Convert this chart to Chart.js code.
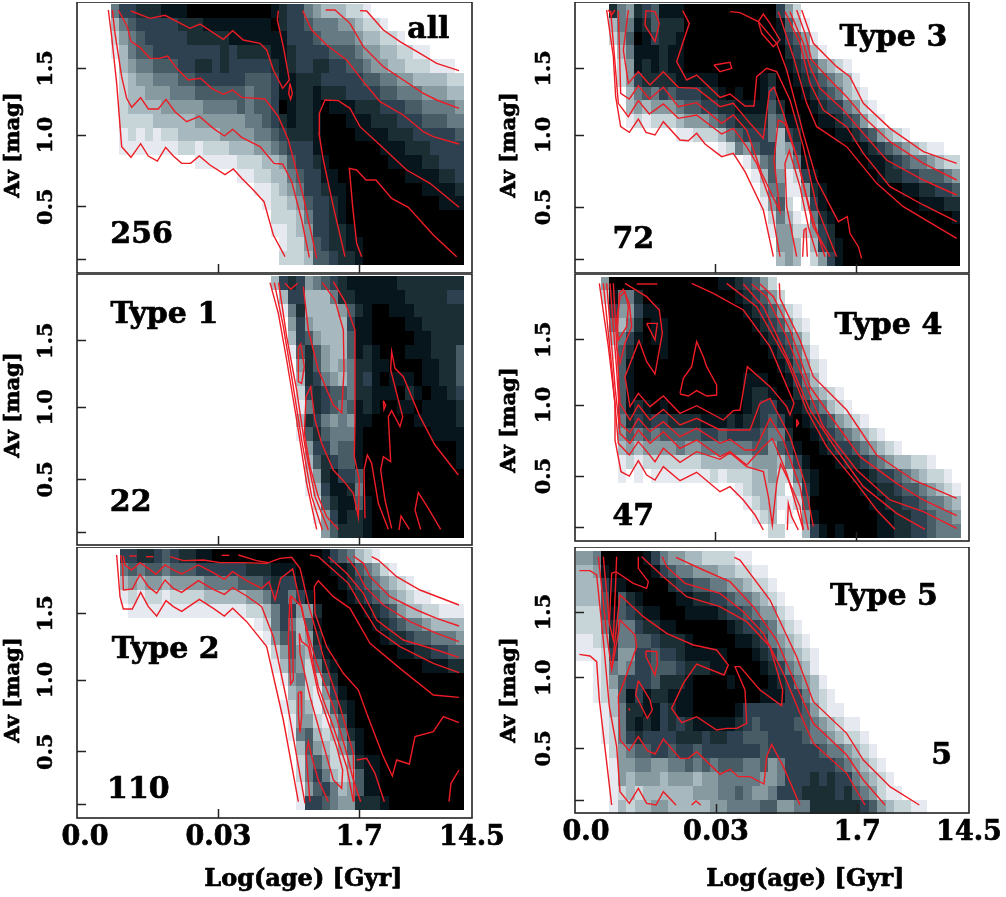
<!DOCTYPE html>
<html><head><meta charset="utf-8">
<style>html,body{margin:0;padding:0;background:#fff}canvas{position:absolute}</style>
<script src="https://cdn.jsdelivr.net/npm/chart.js@4"></script></head><body>
<script>
// Density rows, top to bottom: 0 = black ... 9 = palest, . = empty (spaces only group the columns)
const heatAll=[
"5332221110 0000000001 2335677788 9","7543333322 2111111110 2334555667 889","8654333332 2222111111 1333455556 77889",
"9754433333 3332322221 1233334445 66778899",".765544433 2232333332 1233223344 5667788899 9.",".876655544 3333334443 1122233333 4455667777 88",
".877666555 4444445443 1122122233 3344555666 77",".877776666 6555545443 0122101112 2233344555 56",".888877777 6666665543 2122100011 1222333444 55",
".989898877 7776666554 3222100001 1112223333 34",".999999988 9888777665 4333100000 0011122233 33",".......... 9999988877 6433210000 0001111223 33",
".......... .....99887 7543311000 0000011112 23",".......... .......998 7653321100 0000000111 12",".......... ........98 8764332100 0000000001 11",
".......... .........8 8875332100 0000000000 00",".......... .........9 9876332210 0000000000 00",".......... .......... 9886432211 0000000000 00",
".......... .......... 8887443221 0000000000 00"];
const heatType1=[
"7323654321 1111122222 222",".733777522 1111112222 233",".952777764 2100111222 222","..63677773 1100001122 222","..73467774 1100000112 222",
"..94246774 1210001112 224","...6246765 2211000011 224","...7235675 2310111011 224","...8323445 2211102101 123","...9523454 1210011011 112",
"...7235656 1100000111 112","...9424555 1000000001 111","....633544 1000000000 001","....742344 1000000000 001","....862133 4000000000 000",
"....973112 5000000000 000",".....84211 4100000000 000",".....96312 2100000000 000","......6422 2100000000 000"];
const heatType2=[
"3322343221 1000000000 0000134578 9","5454454443 3333322211 1000011245 689","7676676666 5555444323 3100001234 56789","9898898888 7777766533 5310000123 4567899",
".999999999 9999988753 3662000001 2346778899 9",".......... ......9853 5741000000 1234556777 7",".......... .......964 4762000000 0122344555 6",".......... ........86 4673100000 0001122334 4",
".......... ........97 5685210000 0000001112 2",".......... .........9 6588420000 0000000000 0",".......... .......... 7689631000 0000000000 0",".......... .........9 8679742100 0000000000 0",
".......... .......... 9668964100 0000000000 0",".......... .......... 9547875210 0000000000 0",".......... .......... .746786410 0000000000 0",".......... .......... .854688621 1000000000 0",
".......... .......... .853578741 1000000000 0",".......... .......... .964357641 1000000000 0",".......... .......... .933456622 2100000000 0"];
const heatType3=[
"2562341110 0000000000 368","7551242220 0000000000 1479","8640132210 0000000000 13469",".751112110 0000000000 023579",".861212110 0000000000 012346789",
".863222211 1110000012 0012345679","..75453433 3221010013 0001234578 9","..76766654 4332211114 2000123356 89","..98988876 6654322225 4110011234 689",
"........99 8887543335 7320000112 346789",".......... ...9856433 7630000000 1234567899",".......... ......9754 7751000000 0112345567 88",".......... .......974 6983100000 0012233444 56",
".......... ........85 5996210000 0000011223 34",".......... ........96 48.8310000 0000000111 22",".......... .........8 579.521000 0000000000 01",".......... .........9 6688632000 0000000000 00",
".......... .......... 667.732100 0000000000 00",".......... .......... 767.863100 0000000000 00"];
const heatType4=[
"6000000000 0000112346 8","8155200000 0000001234 68",".366311000 0000000123 4689",".575201100 0000000012 34689",".753101100 0000000001 23468",".942000100 0000000000 123579",
"..41000000 0000000000 0124689","..41000000 0000000111 0013579","..41000000 0000000122 100246789.","..41210100 0000000123 3111245789","..52323322 2211121223 4310123467 89",
"..64545444 4433433334 5520012345 6789","..76766665 6655555544 6431001233 456789","..98988888 8877777766 6753100012 2345677889","..9.9.9999 9998988877 6885210000 1123345678 89",
".......... ......9877 78.7310000 0112234456 789",".......... .......987 7998400000 0011223345 567",".......... ........98 7.9.610000 0001122334 556",".......... .......... 88..731010 0001122334 555"];
const heatType5=[
"6650000013 5667788889 9","7761000001 3455666778 899","7773110000 0233445566 7889","7774042100 0011223345 56789","8884143211 0001111233 456689",
"8885255322 1100000012 3345789","9987255443 2221000001 12356789","9998366334 3321111100 012356789","..98565334 4432221100 001235679","..98643334 2221000010 0001235679",
"..98741312 2111000000 0011133578 9","...9752211 3211000001 3333333468 99","...9852121 3232111112 3433334456 7899","...9853233 3322232233 4443333455 67889","....865443 3433433333 3343333334 556789",
"....966556 6554545444 5546533333 3456789","....967666 7666766555 5566533323 23356789","....987877 7777666554 5665333222 232456899","....978776 6777776655 5544665522 2222346788 99"];

// Contour lines, as x,y pairs in axis units
const contoursAll=[
[115,30,125,110,140,250,155,440,183,472,212,431,235,468,262,483,287,442,310,468,335,490,362,490,388,468,420,495,465,524,490,507,515,535,550,570,582,605,610,705,645,770],
[127,30,135,100,155,230,170,295,185,322,212,293,235,327,265,327,288,298,315,335,350,365,388,349,430,385,463,408,488,388,515,412,570,440,612,490,638,492,665,545,695,660,718,772],
[145,30,172,80,183,125,210,142,240,175,268,175,293,168,320,205,355,240,392,235,425,265,460,283,488,270,515,292,585,297,625,350,655,420,700,590,740,775],
[183,33,240,55,285,46,360,85,390,72,460,118,488,92,520,120,570,130,590,150,610,210,638,265,658,240,640,140,622,60,625,32],
[660,250,667,280,662,298,656,280,660,250],
[698,32,725,90,770,135,830,180,880,245,930,305,1000,345,1060,395,1090,410,1167,432],
[767,30,795,30,840,70,880,140,940,200,1000,240,1060,280,1100,300,1167,325],
[870,32,890,33,940,90,990,125,1050,160,1100,190,1167,212],
[825,770,790,620,760,480,747,400,748,340,765,300,805,302,840,325,870,380,930,435,1010,510,1080,550,1167,622],
[875,770,860,730,848,620,838,505,860,510,888,540,918,540,965,595,1015,622,1090,705,1160,770]];
const contoursType1=[
[600,38,625,130,650,270,680,450,710,640,740,778],
[613,38,640,170,665,320,695,510,725,680,757,780],
[626,38,650,200,680,360,705,530,735,680,775,780],
[645,40,662,58,683,40],
[685,235,692,222,703,290,695,340,685,335,685,235],
[700,50,715,180,745,300,790,405,815,428,822,300,820,180,795,90,757,38],
[790,35,825,95,855,180,855,450,853,560,868,630,865,742,850,670,820,632,790,600,755,520,735,450,722,350,708,380,703,490,720,590,745,680,770,740,805,778],
[885,745,882,600,892,555,905,580,915,640,925,700,955,778],
[965,775,945,690,932,600,940,560,962,575,955,440,965,422,990,470,998,440,962,300,965,245,975,295,1000,320,1050,440,1095,525,1165,615],
[940,392,947,405,942,418,940,392],
[987,780,993,738,1018,778],
[1052,778,1035,720,1045,668,1075,715,1112,778]];
const contoursType2=[
[140,45,150,170,160,207,187,207,212,157,235,200,260,228,288,182,310,200,335,214,388,178,430,205,463,228,488,205,530,245,590,320,640,540,685,785],
[152,45,158,80,160,150,187,147,210,103,235,140,260,160,285,120,310,145,335,157,385,122,430,148,463,163,488,143,530,168,575,200,610,290,650,480,705,790],
[160,48,165,75,185,90,210,68,235,85,258,103,285,75,310,90,335,102,385,75,430,98,463,118,488,95,530,122,575,145,597,125,615,180,632,115,668,87,700,230,740,370,790,500,830,640,850,720,872,785],
[300,50,340,62,400,60,450,68,520,68,590,70,630,55,665,52,690,85,720,210,760,350,810,500,850,640,852,785],
[178,48,200,48],[228,50,250,50],[455,46,478,46],[505,45,560,62,595,68],
[660,170,655,300,662,432,670,420,668,300,663,168,695,200,715,300,745,440,790,560,830,680,850,785],
[688,280,690,340,720,470,745,560,790,720,815,745,818,690,800,620,745,460,715,320,695,305,688,280],
[685,458,693,455,695,530,690,578,685,520,685,458],
[720,785,708,640,715,605,725,650,745,720,775,785],
[905,50,925,60,980,110,1050,150,1167,195],
[850,48,880,70,900,110,960,170,1040,210,1100,235,1167,258],
[830,50,860,90,885,140,940,195,1020,245,1100,280,1167,305],
[775,50,830,100,880,160,920,240,1000,300,1100,330,1167,352],
[720,45,745,50,790,90,835,130,870,190,920,270,990,320,1090,370,1167,398],
[1167,472,1090,465,990,385,900,310,840,205,790,170,745,122,733,140,735,220,770,320,820,400,865,450,890,520,940,650,967,708,980,660,1018,672,1035,590,1090,575,1120,530,1167,548],
[860,660,890,655,915,700,943,785],
[1137,785,1143,730,1167,690]];
const contoursType3=[
[110,30,130,170,137,290,152,380,178,397,205,357,228,397,255,405,280,365,330,420,355,422,380,400,405,432,455,470,490,460,525,515,580,630,610,770],
[122,32,145,310,175,350,205,302,238,342,280,312,325,355,380,345,455,402,490,385,530,440,560,490,600,600,630,770],
[145,32,152,280,178,297,205,257,238,297,280,262,325,320,380,308,455,370,490,345,530,390,575,520,630,635,612,480,625,360,645,370,680,470,720,630,765,770],
[175,30,160,150,175,250,205,215,240,255,280,215,325,262,380,265,450,320,490,310,540,370,580,415,598,275,612,262,640,340,680,470,730,680,780,770],
[338,32,358,70,320,185,350,240,380,225,450,292,480,282,525,318,552,318,560,230,590,205,620,215,660,300,700,440,740,620,800,770],
[680,770,650,620,645,490,658,452,690,560,715,680,742,770],
[698,770,702,690,708,685,712,770],
[695,30,730,130,800,200,840,230,880,310,960,385,1060,455,1160,490],
[680,30,705,100,725,180,780,240,830,290,880,350,960,425,1060,490,1160,540],
[660,35,700,130,720,200,750,265,820,330,880,400,950,480,1060,540,1160,585],
[645,35,690,130,720,250,760,330,830,380,880,460,960,560,1060,615,1160,665],
[625,35,670,170,710,310,740,380,830,440,920,550,1000,620,1160,715],
[480,35,510,38,565,65,620,130,650,210,700,400,740,540,805,665,832,650,840,700,865,740,875,775],
[565,65,575,100,610,140,630,120,600,70,580,42,565,65],
[228,32,225,75,255,125,268,70,255,35,228,32],
[432,195,480,187,485,205,450,215,432,195],
[115,30,125,45,135,30]];
const contoursType4=[
[88,40,115,230,135,400,135,510,153,605,178,618,205,572,230,615,255,630,280,590,330,632,380,607,450,665,480,650,520,690,555,735,580,780],
[100,40,125,290,145,520,178,555,205,515,235,550,255,575,280,535,330,577,380,545,450,568,480,548,530,590,580,605,595,680,607,765,620,640,632,582,660,640,690,710,700,780],
[652,780,655,700,665,740,685,780],
[110,40,135,350,150,490,180,520,205,480,240,520,280,485,330,535,380,510,450,560,480,545,530,585,580,530,607,505,650,610,700,780],
[120,40,140,300,150,460,180,488,205,445,240,485,280,455,330,500,380,475,450,520,480,508,525,540,555,540,600,445,640,510,690,650,715,780],
[130,40,150,400,180,450,205,405,240,450,280,418,330,465,380,445,450,480,540,480,570,400,600,385,660,500,705,640,730,770],
[165,40,230,80,268,120,277,190,255,312,230,275,207,212,165,320,180,410,205,370,240,410,280,378,330,430,380,407,460,450,490,422,510,420,532,290,600,350,650,410,660,435,672,400,600,230,520,120,430,70,365,40],
[628,40,630,85,690,210,730,320,830,420,920,555,1030,630,1160,685],
[570,42,610,80,660,180,720,350,790,450,870,560,980,640,1060,690,1160,737],
[545,42,590,80,650,200,710,350,760,470,860,600,960,690,1060,725,1160,775],
[520,42,580,110,660,280,720,420,800,540,880,650,980,730,1065,778],
[470,40,560,110,650,270,710,420,770,530,860,640,920,720,975,778],
[230,160,262,160,255,210,230,160],
[200,42,262,42],
[330,370,340,325,365,290,380,215,400,260,410,290,440,345,440,375,410,378,380,362,355,378,330,372],
[148,70,160,58,178,100,185,170,165,220,150,280,140,230,148,70],
[150,80,165,65,175,110,170,170,145,210,140,150,150,80],
[680,448,686,460,680,468,680,448]];
const contoursType5=[
[28,343,60,348,80,365,88,480,108,650,125,795],
[28,92,60,92,80,105,100,300,118,500,140,620,150,755,178,790,205,745,230,790,258,795,280,755,318,795],
[365,795,378,783,392,795],
[85,50,110,280,125,390,145,280,150,240,195,285,200,320,175,390,145,470,150,600,178,632,205,590,232,632,255,642,280,597,330,655,355,655,380,635,450,703,480,688,505,710,540,710,582,732,590,650,605,613,640,680,690,795],
[100,50,118,250,130,300,140,50],
[118,250,125,100,138,95,190,130,230,145,235,125,205,85,205,50],
[125,390,150,165,220,230,290,280,370,315,440,330,475,375,462,405,380,372,340,430,305,505,335,548,380,530,440,570,470,565,500,565,530,550,525,450,495,380,510,380,570,450,635,497,638,450,600,320,530,245,450,200,350,170,280,110,215,50],
[277,50,290,80,345,130,450,160,520,215,580,280,640,400,690,520,730,610,830,700,885,795],
[318,52,400,90,480,125,550,200,620,300,680,440,730,550,830,645,880,720,945,795],
[493,52,510,60,600,180,680,350,730,485,830,580,880,660,960,740,1048,795],
[228,333,260,335,262,370,255,405,228,350,228,333],
[205,422,240,480,247,510,232,535,197,465,205,422],
[178,505,178,512]];

const xTickLabels=["0.0","0.03","1.7","14.5"];
const yTickLabels=["1.5","1.0","0.5",""];
const levelColors=["#000000","#06161c","#1b2e33","#2e4150","#485c66","#667a84","#869a9f","#a7b8be","#c8d5d8","#e6eaf0"];
const RED="#ee1c25", FONT='"DejaVu Serif"';

const panels=[
 {frame:[77,2,472,273],origin:[70,0],cells:[123,12,25.2,41.2],heat:heatAll,lines:contoursAll,xTicks:[45,445,868,1206],yTicks:[205,405,620,777],
  notes:[["all",1075,90],["256",215,705]],yTitle:[-168,435],canvasX:0},
 {frame:[77,274,472,545],origin:[70,270],cells:[603,18,25.2,41.3],heat:heatType1,lines:contoursType1,xTicks:[45,445,868,1206],yTicks:[212,412,628,786],
  notes:[["Type 1",283,135],["22",182,700]],yTitle:[-168,405],canvasX:0},
 {frame:[77,547,472,818],origin:[70,540],cells:[150,27,25.2,41.2],heat:heatType2,lines:contoursType2,xTicks:[45,445,868,1206],yTicks:[220,420,635,792],
  notes:[["Type 2",287,330],["110",205,750]],yTitle:[-168,450],xTitle:[700,1018],showX:true,canvasX:0},
 {frame:[575,2,969,273],origin:[570,0],cells:[117,12,25.1,41.3],heat:heatType3,lines:contoursType3,xTicks:[48,437,860,1197],yTicks:[205,405,621,777],
  notes:[["Type 3",970,115],["72",190,720]],yTitle:[-180,435],canvasX:498},
 {frame:[575,274,969,541],origin:[570,270],cells:[93,20,25.1,41.2],heat:heatType4,lines:contoursType4,xTicks:[48,437,860,1197],yTicks:[209,405,618,773],
  notes:[["Type 4",955,170],["47",190,742]],yTitle:[-180,450],canvasX:498},
 {frame:[575,547,969,813],origin:[570,540],cells:[18,32,25.1,41.5],heat:heatType5,lines:contoursType5,xTicks:[48,438,862,1197],yTicks:[216,413,625,780],
  notes:[["Type 5",942,172],["5",1115,648]],yTitle:[-180,450],xTitle:[706,1018],showX:true,canvasX:498}
];

function pairs(f){const o=[];for(let i=0;i<f.length;i+=2)o.push({x:f[i],y:f[i+1]});return o;}

const panelPlugin={
 id:'panel',
 beforeDatasetsDraw(chart){
  const p=chart.options.plugins.panel.p,c=chart.ctx,X=chart.scales.x,Y=chart.scales.y,[x0,y0,w,h]=p.cells;
  p.heat.forEach((row,r)=>{
   const s=row.replace(/ /g,'');
   for(let i=0;i<s.length;i++){
    if(s[i]==='.')continue;
    const a=Math.round(X.getPixelForValue(x0+i*w)),b=Math.round(X.getPixelForValue(x0+(i+1)*w));
    const t=Math.round(Y.getPixelForValue(y0+r*h)),u=Math.round(Y.getPixelForValue(y0+(r+1)*h));
    c.fillStyle=levelColors[+s[i]];
    c.fillRect(a,t,b-a,u-t);
   }
  });
 },
 afterDraw(chart){
  const p=chart.options.plugins.panel.p,c=chart.ctx,X=chart.scales.x,Y=chart.scales.y,A=chart.chartArea;
  c.save();
  c.strokeStyle="#222";c.lineWidth=1.6;c.strokeRect(A.left,A.top,A.right-A.left,A.bottom-A.top);
  c.fillStyle="#000";c.textAlign="center";c.textBaseline="middle";
  c.strokeStyle="#000";c.lineWidth=0.7;c.lineJoin="round";
  const put=(t,x,y)=>{c.fillText(t,x,y);c.strokeText(t,x,y);};
  c.font='bold 30px '+FONT;
  p.notes.forEach(([t,x,y])=>put(t,X.getPixelForValue(x),Y.getPixelForValue(y)));
  if(p.xTitle){c.font='bold 24px '+FONT;put("Log(age) [Gyr]",X.getPixelForValue(p.xTitle[0]),Y.getPixelForValue(p.xTitle[1]));}
  c.font='bold 21px '+FONT;
  c.translate(X.getPixelForValue(p.yTitle[0]),Y.getPixelForValue(p.yTitle[1]));
  c.rotate(-Math.PI/2);put("Av [mag]",0,0);
  c.restore();
 }
};

panels.forEach(p=>{
 const [L,T,R,B]=p.frame,[ox,oy]=p.origin;
 const cv=document.createElement('canvas');
 const H=(B-T)+(p.showX?80:1), W=Math.min(510,1006-p.canvasX);
 cv.width=W;cv.height=H;cv.style.left=p.canvasX+'px';cv.style.top=T+'px';
 document.body.appendChild(cv);
 new Chart(cv,{type:'scatter',
  data:{datasets:p.lines.map(f=>({data:pairs(f),showLine:true,pointRadius:0,borderColor:RED,borderWidth:1.4,tension:0,fill:false}))},
  plugins:[panelPlugin],
  options:{responsive:false,animation:false,devicePixelRatio:1,
   layout:{padding:{right:W-(R-p.canvasX),left:0,top:0,bottom:0}},
   plugins:{legend:{display:false},tooltip:{enabled:false},title:{display:false},panel:{p}},
   scales:{
    x:{type:'linear',position:'bottom',min:(L-ox)*3,max:(R-ox)*3,
     afterBuildTicks(a){a.ticks=p.xTicks.map(v=>({value:v}));},
     afterFit(a){a.height=H-(B-T);a.paddingLeft=0;a.paddingRight=0;},
     border:{display:false},
     grid:{z:1,drawOnChartArea:false,drawTicks:true,tickLength:-9,tickWidth:1.5,
      tickColor:c=>(c.index===0||c.index===3)?'rgba(0,0,0,0)':'#222'},
     ticks:{display:!!p.showX,autoSkip:false,maxRotation:0,minRotation:0,padding:13,color:'#000',textStrokeColor:'#000',textStrokeWidth:0.7,
      font:{family:FONT,weight:'bold',size:27},callback:(v,i)=>xTickLabels[i]}},
    y:{type:'linear',position:'left',reverse:true,min:(T-oy)*3,max:(B-oy)*3,
     afterBuildTicks(a){a.ticks=p.yTicks.map(v=>({value:v}));},
     afterFit(a){a.width=L-p.canvasX;a.paddingTop=0;a.paddingBottom=0;},
     border:{display:false},
     grid:{z:1,drawOnChartArea:false,drawTicks:true,tickLength:-9,tickWidth:1.5,tickColor:'#222'},
     ticks:{autoSkip:false,minRotation:90,maxRotation:90,crossAlign:'center',padding:21,color:'#000',textStrokeColor:'#000',textStrokeWidth:0.5,
      font:{family:FONT,weight:'bold',size:21},callback:(v,i)=>yTickLabels[i]}}
   }}});
});
</script></body></html>
